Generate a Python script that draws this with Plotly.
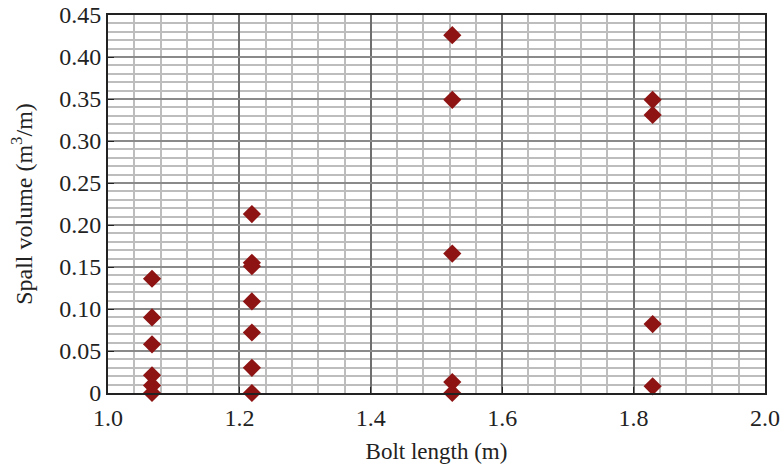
import plotly.graph_objects as go

# Bolt length (m) and measured spall volume (m^3/m) for each test
bolt_length = [
    1.067, 1.067, 1.067, 1.067, 1.067, 1.067,
    1.219, 1.219, 1.219, 1.219, 1.219, 1.219, 1.219,
    1.524, 1.524, 1.524, 1.524, 1.524,
    1.829, 1.829, 1.829, 1.829,
]
spall_volume = [
    0.136, 0.090, 0.058, 0.021, 0.009, 0.0,
    0.213, 0.155, 0.151, 0.109, 0.072, 0.030, 0.0,
    0.426, 0.349, 0.166, 0.013, 0.0,
    0.349, 0.331, 0.082, 0.008,
]

x_ticks = [1.0, 1.2, 1.4, 1.6, 1.8, 2.0]
x_tick_text = ["1.0", "1.2", "1.4", "1.6", "1.8", "2.0"]
y_ticks = [0, 0.05, 0.10, 0.15, 0.20, 0.25, 0.30, 0.35, 0.40, 0.45]
y_tick_text = ["0", "0.05", "0.10", "0.15", "0.20", "0.25", "0.30", "0.35", "0.40", "0.45"]

serif = "Liberation Serif"

fig = go.Figure(
    go.Scatter(
        x=bolt_length,
        y=spall_volume,
        mode="markers",
        marker=dict(symbol="diamond", size=14, color="#8e1414", line=dict(width=0)),
        cliponaxis=False,
        showlegend=False,
    )
)

fig.update_layout(
    width=784,
    height=472,
    margin=dict(l=108, r=19, t=15, b=79),
    paper_bgcolor="white",
    plot_bgcolor="white",
    font=dict(family=serif, size=24, color="#222"),
)

fig.update_xaxes(
    range=[1.0, 2.0],
    automargin=False,
    tickvals=x_ticks,
    ticktext=x_tick_text,
    tickfont=dict(family=serif, size=24),
    ticks="inside",
    ticklen=6,
    tickcolor="#222",
    ticklabelstandoff=2,
    showline=True,
    linecolor="#222",
    linewidth=2,
    mirror=True,
    showgrid=True,
    gridcolor="#6e6e6e",
    gridwidth=1.5,
    minor=dict(dtick=0.04, tick0=1.0, showgrid=True, gridcolor="#bdbdbd", gridwidth=2),
    zeroline=False,
    title=dict(text="Bolt length (m)", font=dict(family=serif, size=23), standoff=13),
)

fig.update_yaxes(
    range=[0, 0.45],
    automargin=False,
    tickvals=y_ticks,
    ticktext=y_tick_text,
    tickfont=dict(family=serif, size=24),
    ticks="inside",
    ticklen=6,
    tickcolor="#222",
    showline=True,
    linecolor="#222",
    linewidth=2,
    mirror=True,
    showgrid=True,
    gridcolor="#8a8a8a",
    gridwidth=1.5,
    minor=dict(dtick=0.01, tick0=0, showgrid=True, gridcolor="#bdbdbd", gridwidth=2),
    zeroline=False,
    title=dict(text="Spall volume (m<sup>3</sup>/m)", font=dict(family=serif, size=24), standoff=20),
)

fig.write_html("out.html")
